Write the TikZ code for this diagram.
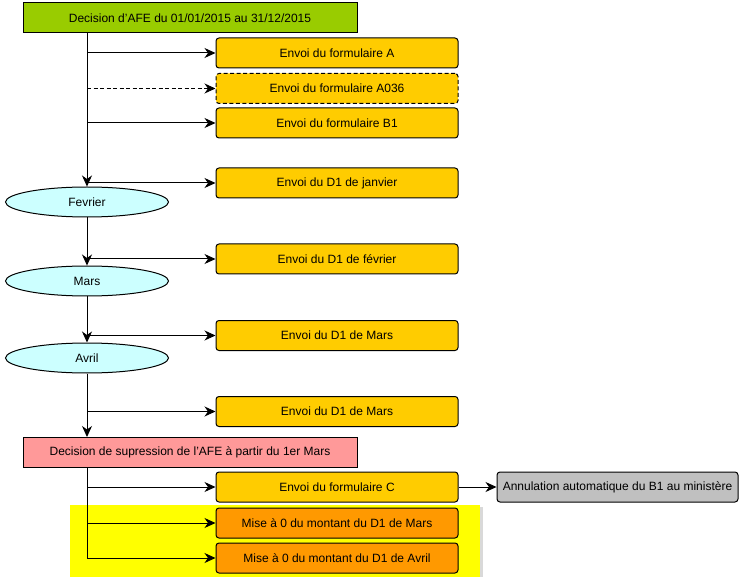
\documentclass[tikz,border=0pt]{standalone}
\usepackage{fontspec}
\setmainfont{Liberation Sans}
\usetikzlibrary{arrows.meta,shapes.geometric}
\definecolor{cgreen}{HTML}{99CC00}
\definecolor{corange}{HTML}{FFCC00}
\definecolor{cdark}{HTML}{FF9900}
\definecolor{cred}{HTML}{FF9999}
\definecolor{ccyan}{HTML}{CCFFFF}
\definecolor{cgrey}{HTML}{C0C0C0}
\definecolor{cyel}{HTML}{FFFF00}
\tikzset{
  base/.style={draw=black, line width=1pt, font=\fontsize{12}{14}\selectfont, inner sep=0pt, text=black},
  rectbox/.style={base, rectangle, minimum width=334pt, minimum height=30pt},
  envoi/.style={base, rectangle, rounded corners=3pt, fill=corange, minimum width=242pt, minimum height=30pt},
  mise/.style={envoi, fill=cdark},
  month/.style={base, ellipse, fill=ccyan, minimum width=163pt, minimum height=30pt},
  arr/.style={line width=1pt, -{Stealth[length=11pt,width=10pt,inset=3.5pt]}},
  ln/.style={line width=1pt},
}
\begin{document}
\begin{tikzpicture}[x=1pt,y=-1pt]
\useasboundingbox (0,0) rectangle (744,577);
% yellow highlight area
\fill[black!15] (72,507) rectangle (483,580);
\fill[cyel] (70,505) rectangle (480,580);

\node[rectbox, fill=cgreen] (dec) at (190,18) {Decision d'AFE du 01/01/2015 au 31/12/2015};
\node[envoi] (fa) at (337,53) {Envoi du formulaire A};
\node[envoi, dash pattern=on 4pt off 2.5pt] (fa36) at (337,88.5) {Envoi du formulaire A036};
\node[envoi] (fb1) at (337,123) {Envoi du formulaire B1};
\node[envoi] (jan) at (337,183) {Envoi du D1 de janvier};
\node[month] (fev) at (87,202) {Fevrier};
\node[envoi] (febr) at (337,259) {Envoi du D1 de février};
\node[month] (mars) at (87,281) {Mars};
\node[envoi] (d1m) at (337,335.5) {Envoi du D1 de Mars};
\node[month] (avr) at (87,358) {Avril};
\node[envoi] (d1m2) at (337,411.5) {Envoi du D1 de Mars};
\node[rectbox, fill=cred] (sup) at (190,452.5) {Decision de supression de l'AFE à partir du 1er Mars};
\node[envoi] (fc) at (337,487) {Envoi du formulaire C};
\node[base, rectangle, rounded corners=3pt, fill=cgrey, minimum width=241pt, minimum height=30pt] (ann) at (617.5,487) {Annulation automatique du B1 au ministère};
\node[mise] (mm) at (337,523) {Mise à 0 du montant du D1 de Mars};
\node[mise] (ma) at (337,558) {Mise à 0 du montant du D1 de Avril};

% branch points
\coordinate (p1) at (87,53);
\coordinate (p2) at (87,88.5);
\coordinate (p3) at (87,123);
\coordinate (p4) at (87,183);
\coordinate (p5) at (87,259);
\coordinate (p6) at (87,335.5);
\coordinate (p7) at (87,411.5);
\coordinate (p8) at (87,487);
\coordinate (p9) at (87,523);
\coordinate (p10) at (87,558);

% trunk
\draw[arr] (dec.south -| fev.north) -- (fev.north);
\draw[arr] (fev.south) -- (mars.north);
\draw[arr] (mars.south) -- (avr.north);
\draw[arr] (avr.south) -- (sup.north -| avr.south);
\draw[ln] (sup.south -| p10) -- (p10);

% branches
\draw[arr] (p1) -- (fa.west);
\draw[arr, dash pattern=on 4pt off 2.5pt] (p2) -- (fa36.west);
\draw[arr] (p3) -- (fb1.west);
\draw[arr] (p4) -- (jan.west);
\draw[arr] (p5) -- (febr.west);
\draw[arr] (p6) -- (d1m.west);
\draw[arr] (p7) -- (d1m2.west);
\draw[arr] (p8) -- (fc.west);
\draw[arr] (p9) -- (mm.west);
\draw[arr] (p10) -- (ma.west);
\draw[arr] (fc.east) -- (ann.west);
\end{tikzpicture}
\end{document}
